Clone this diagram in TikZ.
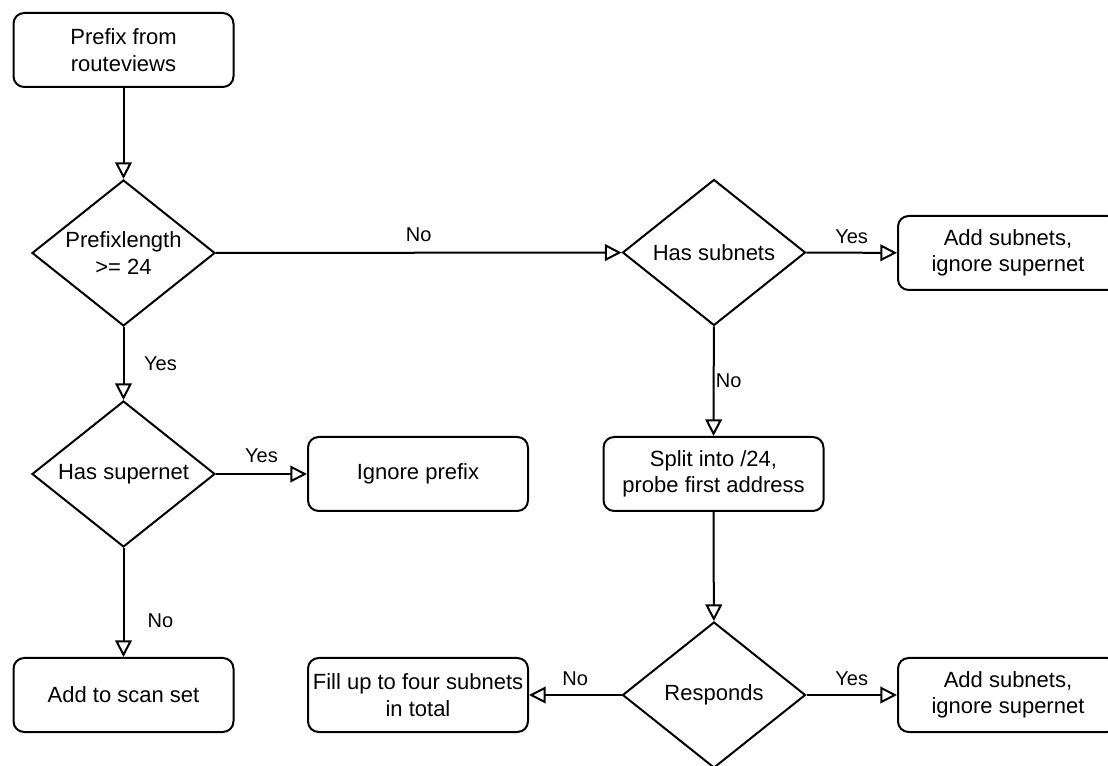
\documentclass[tikz,border=0pt]{standalone}
\usepackage{fontspec}
\setmainfont{Liberation Sans}
\usetikzlibrary{shapes.geometric,arrows.meta}

\tikzset{
  box/.style={draw, rounded corners=8pt, line width=1.5pt, fill=white,
    minimum width=165pt, minimum height=55.5pt, inner sep=0pt,
    align=center, font=\fontsize{16.5}{19.8}\selectfont},
  decision/.style={draw, diamond, line width=1.5pt, fill=white,
    minimum width=137.25pt, minimum height=109.5pt, inner sep=0pt,
    aspect=1.25, align=center, font=\fontsize{16.5}{19.8}\selectfont},
  flow/.style={line width=1.5pt,
    -{Triangle[open, length=12.5pt, width=12.5pt, line width=1.5pt]}},
  lbl/.style={font=\fontsize{15}{18}\selectfont, inner sep=0pt}
}

\begin{document}
\begin{tikzpicture}[x=0.75pt, y=-0.75pt]
  \clip (0,0) rectangle (1108,766);

  % boxes and decisions
  \node[box] (start) at (123.5,50) {Prefix from\\routeviews};
  \node[decision] (d1) at (123.5,253) {Prefixlength\\>= 24};
  \node[decision] (d2) at (714,252.5) {Has subnets};
  \node[box] (addA) at (1008,253) {Add subnets,\\ignore supernet};
  \node[decision] (d3) at (123.5,474) {Has supernet};
  \node[box] (ign) at (418,474) {Ignore prefix};
  \node[box] (scan) at (123.5,695) {Add to scan set};
  \node[box] (split) at (713.5,474) {Split into /24,\\probe first address};
  \node[decision] (d4) at (714,695) {Responds};
  \node[box] (fill) at (418,695) {Fill up to four subnets\\in total};
  \node[box] (addB) at (1008,695) {Add subnets,\\ignore supernet};

  % connectors
  \draw[flow] (start) -- (d1);
  \draw[flow] (d1) -- node[lbl, yshift=13.5pt] {No} (d2);
  \draw[flow] (d2) -- node[lbl, yshift=12pt] {Yes} (addA);
  \draw[flow] (d1) -- node[lbl, xshift=27.75pt] {Yes} (d3);
  \draw[flow] (d3) -- node[lbl, yshift=13.5pt] {Yes} (ign);
  \draw[flow] (d3) -- node[lbl, pos=0.67, xshift=27.75pt] {No} (scan);
  \draw[flow] (d2) -- node[lbl, xshift=11.25pt] {No} (split);
  \draw[flow] (split) -- (d4);
  \draw[flow] (d4) -- node[lbl, yshift=12pt] {Yes} (addB);
  \draw[flow] (d4) -- node[lbl, yshift=12pt] {No} (fill);
\end{tikzpicture}
\end{document}
